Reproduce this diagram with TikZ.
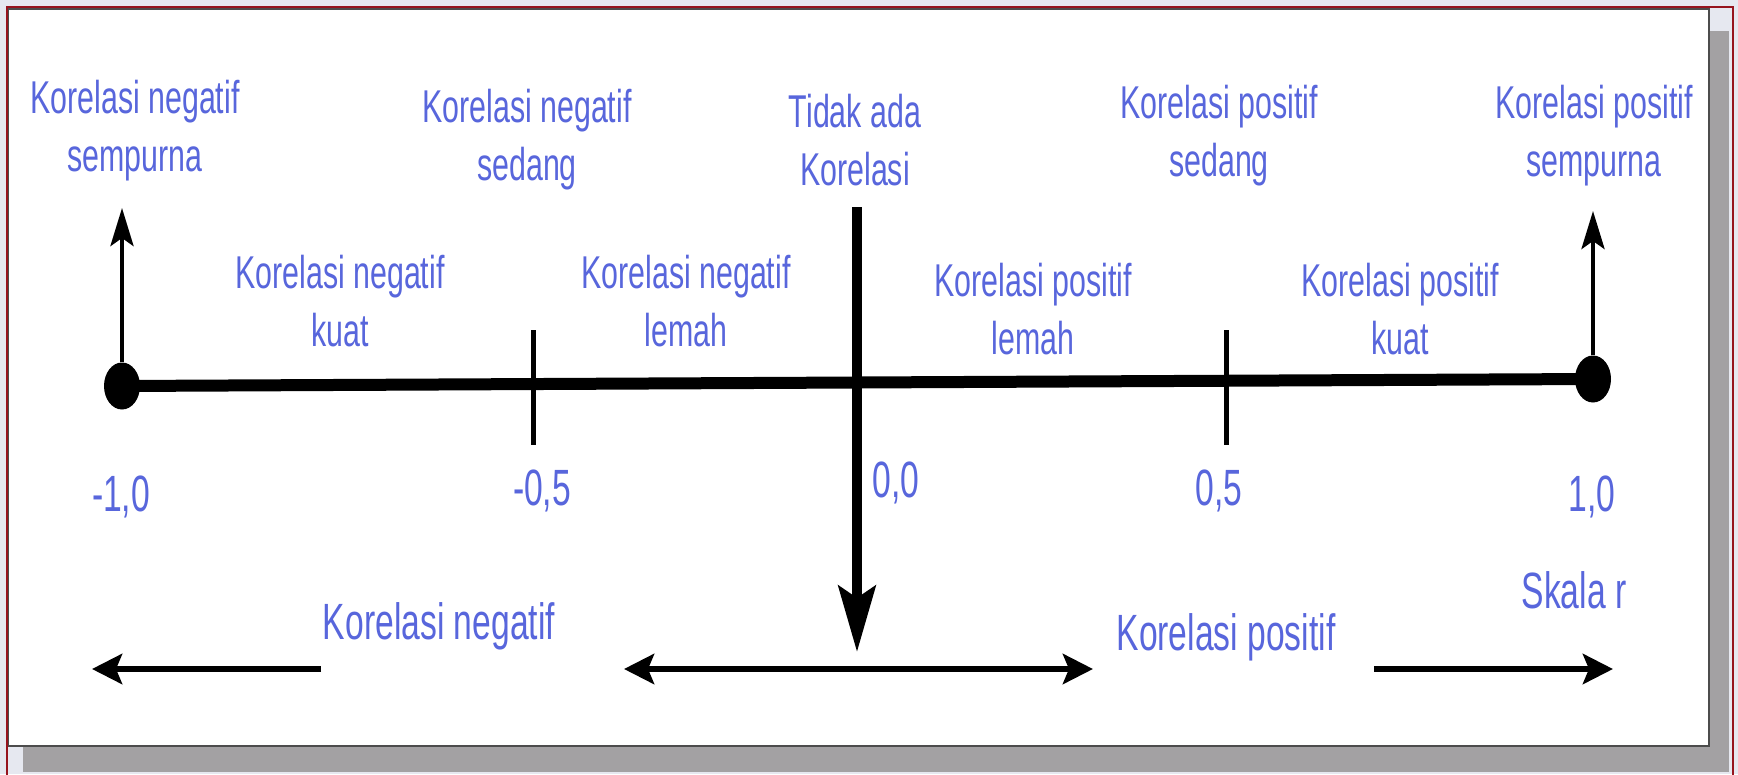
\documentclass[tikz,border=0pt]{standalone}
\usepackage{fontspec}
\setmainfont{Liberation Sans}[FakeStretch=0.66]
\usepackage{xcolor}
\usepackage{tikz}
\usetikzlibrary{arrows.meta,shapes.geometric}
\definecolor{labelblue}{RGB}{88,102,220}
\definecolor{pagebg}{RGB}{230,232,240}
\definecolor{framered}{RGB}{150,20,30}
\definecolor{shadowgray}{RGB}{163,161,163}

\begin{document}
\begin{tikzpicture}[
  x=1pt, y=-1pt,
  font=\fontsize{46}{58}\selectfont,
  lbl/.style={text=labelblue, align=center, inner sep=0pt},
  biglbl/.style={lbl, font=\fontsize{51}{60}\selectfont},
  dot/.style={ellipse, fill=black, inner sep=0pt, minimum width=36pt, minimum height=47pt},
  axis/.style={line width=12pt},
  tickmark/.style={line width=5pt},
  zeroline/.style={line width=10pt, -{Stealth[length=66pt, width=37pt, inset=12pt]}},
  uparrow/.style={line width=4.5pt, -{Stealth[length=38pt, width=23pt, inset=8pt]}},
  dirarrow/.style={line width=6pt, -{Stealth[length=30pt, width=30pt, inset=6pt]}},
  dualarrow/.style={line width=6pt, {Stealth[length=30pt, width=30pt, inset=6pt]}-{Stealth[length=30pt, width=30pt, inset=6pt]}}
]
\useasboundingbox (0,0) rectangle (1738,774);
% frame
\fill[pagebg] (0,0) rectangle (1738,774);
\fill[shadowgray] (23,31) rectangle (1729,772);
\filldraw[fill=white, draw=black!70, line width=1.5pt] (8,9) rectangle (1709,746);
\draw[framered, line width=2pt] (7,7) rectangle (1733,800);

% scale r
\node[dot] (dneg) at (122,386) {};
\node[dot] (dpos) at (1593,379) {};
\draw[axis] (dneg.center) -- (dpos.center);
\coordinate (negtip) at (122,208);
\coordinate (postip) at (1593,211);
\draw[uparrow] (dneg) -- (negtip);
\draw[uparrow] (dpos) -- (postip);
\coordinate (tickneg) at (533,330);
\coordinate (tickpos) at (1226,330);
\draw[tickmark] (tickneg) -- ++(0,115);
\draw[tickmark] (tickpos) -- ++(0,115);
\coordinate (ztop) at (857,207);
\coordinate (zbot) at (857,652);
\draw[zeroline] (ztop) -- (zbot);

% ranges
\node[lbl] (negsemp) at (135,131) {Korelasi negatif\\sempurna};
\node[lbl] (negsed) at (527,140) {Korelasi negatif\\sedang};
\node[lbl] (nolink) at (855,140) {Tidak ada\\Korelasi};
\node[lbl] (possed) at (1219,136) {Korelasi positif\\sedang};
\node[lbl] (possemp) at (1594,136) {Korelasi positif\\sempurna};
\node[lbl] (negkuat) at (340,301) {Korelasi negatif\\kuat};
\node[lbl] (neglemah) at (686,301) {Korelasi negatif\\lemah};
\node[lbl] (poslemah) at (1033,309) {Korelasi positif\\lemah};
\node[lbl] (poskuat) at (1400,309) {Korelasi positif\\kuat};

% values
\node[biglbl] (vnegone) at (121,497) {-1,0};
\node[biglbl] (vneghalf) at (542,491) {-0,5};
\node[biglbl] (vzero) at (896,483) {0,0};
\node[biglbl] (vposhalf) at (1219,491) {0,5};
\node[biglbl] (vposone) at (1592,497) {1,0};
\node[biglbl] (skala) at (1574,590) {Skala r};

% directions
\node[biglbl] (negdir) at (439,626) {Korelasi negatif};
\node[biglbl] (posdir) at (1226,637) {Korelasi positif};
\coordinate (nega) at (321,669);
\coordinate (negb) at (92,669);
\coordinate (mida) at (624,669);
\coordinate (midb) at (1093,669);
\coordinate (posa) at (1374,669);
\coordinate (posb) at (1613,669);
\draw[dirarrow] (nega) -- (negb);
\draw[dualarrow] (mida) -- (midb);
\draw[dirarrow] (posa) -- (posb);
\end{tikzpicture}
\end{document}
